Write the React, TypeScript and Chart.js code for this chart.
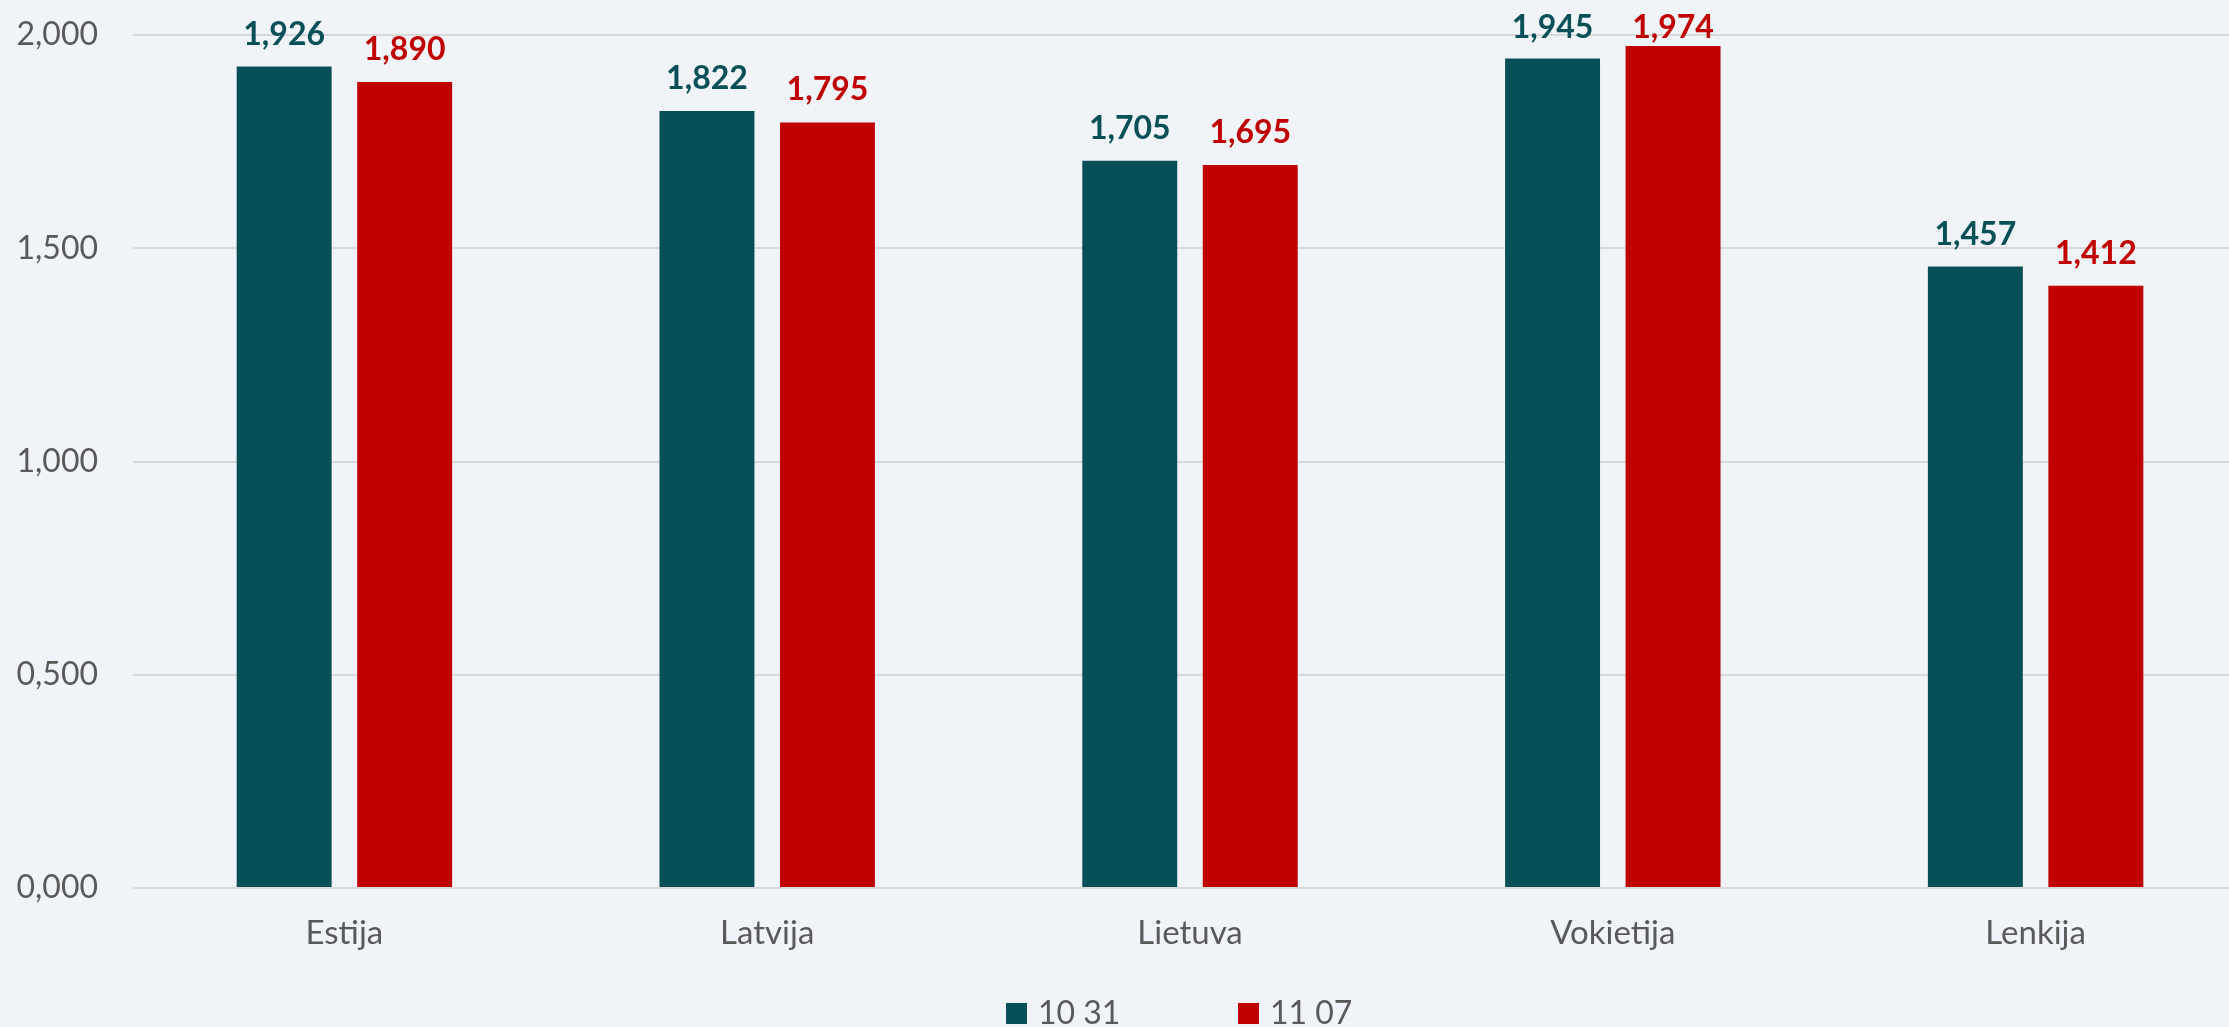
import React, { useEffect, useRef } from "react";
import { Chart, registerables } from "chart.js";

Chart.register(...registerables);

const categories = ["Estija", "Latvija", "Lietuva", "Vokietija", "Lenkija"];
const seriesNames = ["10 31", "11 07"];
const series1031 = [1.926, 1.822, 1.705, 1.945, 1.457];
const series1107 = [1.89, 1.795, 1.695, 1.974, 1.412];
const seriesColors = ["#075058", "#C00000"];
const yTicks = [0, 0.5, 1, 1.5, 2];

const BG = "#F0F3F7";
const FONT = "Lato, 'Open Sans', sans-serif";

const fmt = (v: number) => v.toFixed(3).replace(".", ",");

const dataLabelPlugin = {
  id: "dataLabels",
  afterDatasetsDraw(chart: any) {
    const ctx = chart.ctx;
    ctx.save();
    ctx.font = `bold 32px ${FONT}`;
    ctx.textAlign = "center";
    ctx.textBaseline = "alphabetic";
    const minBaseline = chart.chartArea.top + 3;
    chart.data.datasets.forEach((ds: any, di: number) => {
      const meta = chart.getDatasetMeta(di);
      ctx.fillStyle = ds.backgroundColor;
      meta.data.forEach((bar: any, i: number) => {
        const y = Math.max(bar.y - 22, minBaseline);
        ctx.fillText(fmt(ds.data[i]), bar.x, y);
      });
    });
    ctx.restore();
  },
};

const legendPlugin = {
  id: "customLegend",
  afterDraw(chart: any) {
    const ctx = chart.ctx;
    const area = chart.chartArea;
    const cx = (area.left + area.right) / 2;
    const starts = [cx - 184, cx + 48];
    ctx.save();
    ctx.font = `32px ${FONT}`;
    ctx.textAlign = "left";
    ctx.textBaseline = "alphabetic";
    chart.data.datasets.forEach((ds: any, i: number) => {
      const x = starts[i];
      ctx.fillStyle = ds.backgroundColor;
      ctx.fillRect(x, 1003, 21, 21);
      ctx.fillStyle = "#595959";
      ctx.fillText(ds.label, x + 32, 1024);
    });
    ctx.restore();
  },
};

export default function App() {
  const canvasRef = useRef<HTMLCanvasElement | null>(null);

  useEffect(() => {
    const canvas = canvasRef.current;
    if (!canvas) return;
    const chart = new Chart(canvas, {
      type: "bar",
      data: {
        labels: categories,
        datasets: [
          {
            label: seriesNames[0],
            data: series1031,
            backgroundColor: seriesColors[0],
            categoryPercentage: 0.57,
            barPercentage: 0.788,
          },
          {
            label: seriesNames[1],
            data: series1107,
            backgroundColor: seriesColors[1],
            categoryPercentage: 0.57,
            barPercentage: 0.788,
          },
        ],
      },
      options: {
        responsive: false,
        animation: false,
        devicePixelRatio: 1,
        layout: { padding: { top: 35, bottom: 52, left: 0, right: 0 } },
        plugins: {
          legend: { display: false },
          tooltip: { enabled: false },
        },
        scales: {
          x: {
            grid: { display: false, drawTicks: false },
            border: { display: false },
            ticks: {
              color: "#595959",
              font: { family: FONT, size: 33 },
              padding: 26,
            },
            afterFit(scale: any) {
              scale.height = 100;
            },
          },
          y: {
            min: 0,
            max: 2,
            afterBuildTicks(scale: any) {
              scale.ticks = yTicks.map((v) => ({ value: v }));
            },
            grid: { color: "#D9D9D9", lineWidth: 2, drawTicks: false },
            border: { display: false },
            ticks: {
              color: "#595959",
              font: { family: FONT, size: 32 },
              padding: 35,
              callback: (v: any) => fmt(Number(v)),
            },
            afterFit(scale: any) {
              scale.width = 133;
              scale.paddingTop = 0;
              scale.paddingBottom = 0;
            },
          },
        },
      },
      plugins: [dataLabelPlugin, legendPlugin],
    });
    return () => chart.destroy();
  }, []);

  return (
    <div
      style={{
        position: "fixed",
        left: 0,
        top: 0,
        width: 2229,
        height: 1027,
        overflow: "hidden",
        background: BG,
      }}
    >
      <canvas
        ref={canvasRef}
        width={2247}
        height={1040}
        style={{ display: "block", width: 2247, height: 1040 }}
      />
    </div>
  );
}
